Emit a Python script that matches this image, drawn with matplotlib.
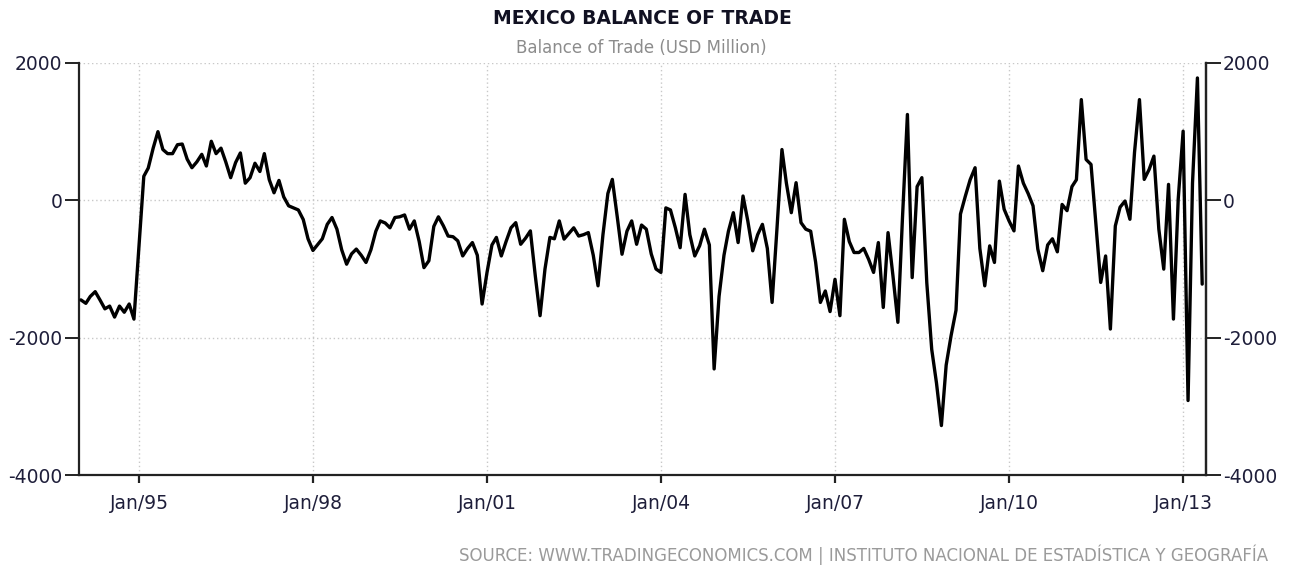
import matplotlib
matplotlib.use("Agg")
import matplotlib.pyplot as plt
import pandas as pd
from datetime import datetime

# ---- data (USD million), monthly, Dec-1993 .. Apr-2013 (month-end dates) ----
start_month = "1993-12-31"
balance = [
    -1450, -1500, -1400, -1330, -1450, -1580, -1540, -1700, -1540, -1630, -1510, -1730,
    -700, 350, 470, 760, 1000, 740, 680, 680, 810, 820, 600, 475,
    560, 670, 500, 860, 680, 760, 560, 330, 550, 690, 250, 330,
    540, 420, 680, 300, 110, 290, 50, -80, -110, -140, -280, -560,
    -730, -640, -560, -350, -250, -420, -720, -930, -780, -710, -800, -905,
    -720, -450, -300, -330, -400, -250, -240, -213, -420, -300, -600, -980,
    -880, -380, -240, -370, -520, -530, -590, -810, -700, -615, -800, -1510,
    -1050, -650, -540, -810, -600, -400, -325, -640, -550, -445, -1100, -1680,
    -1000, -540, -560, -300, -565, -480, -400, -520, -500, -470, -800, -1245,
    -500, 100, 305, -240, -785, -450, -300, -640, -360, -420, -780, -1000,
    -1050, -110, -140, -400, -690, 87, -500, -810, -660, -420, -650, -2455,
    -1400, -800, -450, -180, -615, 63, -300, -735, -500, -350, -700, -1487,
    -400, 740, 250, -180, 257, -325, -420, -450, -900, -1487, -1320, -1620,
    -1150, -1680, -276, -600, -760, -760, -700, -860, -1050, -615, -1560, -470,
    -1100, -1777, -250, 1250, -1125, 200, 330, -1200, -2170, -2660, -3280, -2400,
    -1970, -1600, -200, 63, 300, 475, -700, -1245, -663, -905, 280, -130,
    -300, -445, 500, 250, 100, -80, -710, -1025, -650, -560, -750, -60,
    -150, 200, 300, 1467, 595, 523, -325, -1196, -810, -1874, -373, -100,
    -10, -276, 700, 1467, 305, 450, 644, -420, -1002, 232, -1729, 15,
    1007, -2915, 250, 1782, -1220,
]
dates = pd.date_range(start_month, periods=len(balance), freq="ME")

tick_years = [1995, 1998, 2001, 2004, 2007, 2010, 2013]
tick_labels = ["Jan/95", "Jan/98", "Jan/01", "Jan/04", "Jan/07", "Jan/10", "Jan/13"]
y_ticks = [-4000, -2000, 0, 2000]

title = "MEXICO BALANCE OF TRADE"
subtitle = "Balance of Trade (USD Million)"
source = "SOURCE: WWW.TRADINGECONOMICS.COM | INSTITUTO NACIONAL DE ESTADÍSTICA Y GEOGRAFÍA"

# ---- figure ----
W, H = 1291, 567
fig = plt.figure(figsize=(W / 100, H / 100), dpi=100)
plt.rcParams["font.family"] = ["DejaVu Sans"]

left, right, top, bottom = 79, 1206, 63, 475
ax = fig.add_axes([left / W, 1 - bottom / H, (right - left) / W, (bottom - top) / H])

ax.plot(dates, balance, color="black", lw=2.4, solid_joinstyle="round",
        solid_capstyle="round", zorder=3)

ax.set_ylim(-4000, 2000)
ax.set_xlim(datetime(1993, 12, 19), datetime(2013, 5, 24))

xt = [datetime(y, 1, 1) for y in tick_years]
ax.set_xticks(xt)
ax.set_xticklabels(tick_labels)
ax.set_yticks(y_ticks)
ax.set_yticklabels([str(v) for v in y_ticks])

grid_kw = dict(color="#c8c8c8", lw=1.0, linestyle=(0, (1, 2)), zorder=1)
for v in [0, 2000, -2000]:
    ax.axhline(v, **grid_kw)
for d in xt:
    ax.axvline(d, **grid_kw)

label_color = "#1e1e3a"
ax.spines["top"].set_visible(False)
for s in ["left", "bottom", "right"]:
    ax.spines[s].set_color("#222222")
    ax.spines[s].set_linewidth(1.6)

ax.tick_params(axis="x", direction="out", length=6, width=1.6, color="#222222",
               pad=8, labelsize=13.5, labelcolor=label_color)
ax.tick_params(axis="y", direction="out", length=10, width=1.4, color="#222222",
               pad=2, labelsize=13.5, labelcolor=label_color)

ax2 = ax.twinx()
ax2.set_ylim(-4000, 2000)
ax2.set_yticks(y_ticks)
ax2.set_yticklabels([str(v) for v in y_ticks])
for s in ["top", "left", "bottom"]:
    ax2.spines[s].set_visible(False)
ax2.spines["right"].set_color("#222222")
ax2.spines["right"].set_linewidth(1.6)
ax2.tick_params(axis="y", direction="out", length=11, width=1.4, color="#222222",
                pad=1, labelsize=13.5, labelcolor=label_color)

fig.text(642 / W, 1 - 18 / H, title, ha="center", va="center",
         fontsize=13.5, fontweight="bold", color="#111122")
fig.text(641 / W, 1 - 48 / H, subtitle, ha="center", va="center",
         fontsize=12, color="#8c8c8c")
fig.text(1268 / W, 1 - 555 / H, source, ha="right", va="center",
         fontsize=12, color="#9a9a9a")

fig.savefig("out.png", dpi=100)
